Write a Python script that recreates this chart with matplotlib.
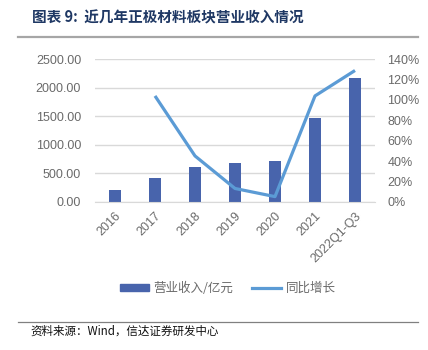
import matplotlib
matplotlib.use("Agg")
import matplotlib.pyplot as plt
from matplotlib.lines import Line2D
from matplotlib.patches import Patch
import numpy as np

plt.rcParams['font.family'] = ['Liberation Sans', 'Noto Sans CJK SC', 'DejaVu Sans']

years = ['2016', '2017', '2018', '2019', '2020', '2021', '2022Q1-Q3']
revenue = [200, 418, 603, 674, 714, 1463, 2170]          # 亿元
growth = [None, 104, 45, 13, 5, 104, 129]                  # %

bar_color = '#4864AC'
line_color = '#5B9BD5'
grey = '#6A6A6A'

fig = plt.figure(figsize=(4.28, 3.5), dpi=100)
ax = fig.add_axes([95 / 428, 1 - 201.7 / 350, 280 / 428, 142.4 / 350])
ax2 = ax.twinx()

x = np.arange(len(years))
ax.bar(x, revenue, width=0.32, color=bar_color, zorder=2)
gx = [i for i, g in enumerate(growth) if g is not None]
gy = [g for g in growth if g is not None]
ax2.plot(gx, gy, color=line_color, lw=2.3, solid_capstyle='butt', zorder=3)

ax.set_xlim(-0.5, len(years) - 0.5)
ax.set_ylim(0, 2500)
ax.set_yticks(np.arange(0, 2501, 500))
ax.set_yticklabels(['%.2f' % v for v in np.arange(0, 2501, 500)])
ax2.set_ylim(0, 140)
ax2.set_yticks(np.arange(0, 141, 20))
ax2.set_yticklabels(['%d%%' % v for v in np.arange(0, 141, 20)])

ax.grid(axis='y', color='#D9D9D9', lw=1, zorder=0)
ax.set_axisbelow(True)
for a in (ax, ax2):
    for s in a.spines.values():
        s.set_visible(False)
ax.spines['bottom'].set_visible(True)
ax.spines['bottom'].set_color('#D9D9D9')

ax.tick_params(axis='y', length=0, pad=10, labelsize=9, labelcolor=grey)
ax2.tick_params(axis='y', length=0, pad=9, labelsize=9, labelcolor=grey)
ax.tick_params(axis='x', length=0, pad=6, labelsize=9, labelcolor=grey)
ax.set_xticks(x)
ax.set_xticklabels(years, rotation=45, ha='right', va='top', rotation_mode='anchor')

handles = [Patch(color=bar_color), Line2D([], [], color=line_color, lw=2.3)]
fig.legend(handles, ['营业收入/亿元', '同比增长'], loc='center', bbox_to_anchor=(228 / 428, 1 - 288 / 350),
           ncol=2, frameon=False, labelcolor=grey, handlelength=2.3, handleheight=0.5,
           columnspacing=1.5, handletextpad=0.4, prop={'family': ['Noto Sans CJK SC'], 'size': 9})

fig.text(32 / 428, 1 - 17 / 350, '图表 9:  近几年正极材料板块营业收入情况', fontsize=10.5, fontweight='bold',
         color='#1F3864', va='center', ha='left', family=['Noto Sans CJK SC', 'DejaVu Sans'])
fig.add_artist(Line2D([18 / 428, 418 / 428], [1 - 36.5 / 350] * 2, color='#A6A6A6', lw=1.6))
fig.add_artist(Line2D([18 / 428, 418 / 428], [1 - 321.7 / 350] * 2, color='#808080', lw=0.9))
fig.text(30 / 428, 1 - 331 / 350, '资料来源：Wind，信达证券研发中心', fontsize=8.3, color='#111111',
         va='center', ha='left', style='italic', family=['Noto Sans CJK SC', 'DejaVu Sans'])

fig.savefig('out.png', dpi=100)
